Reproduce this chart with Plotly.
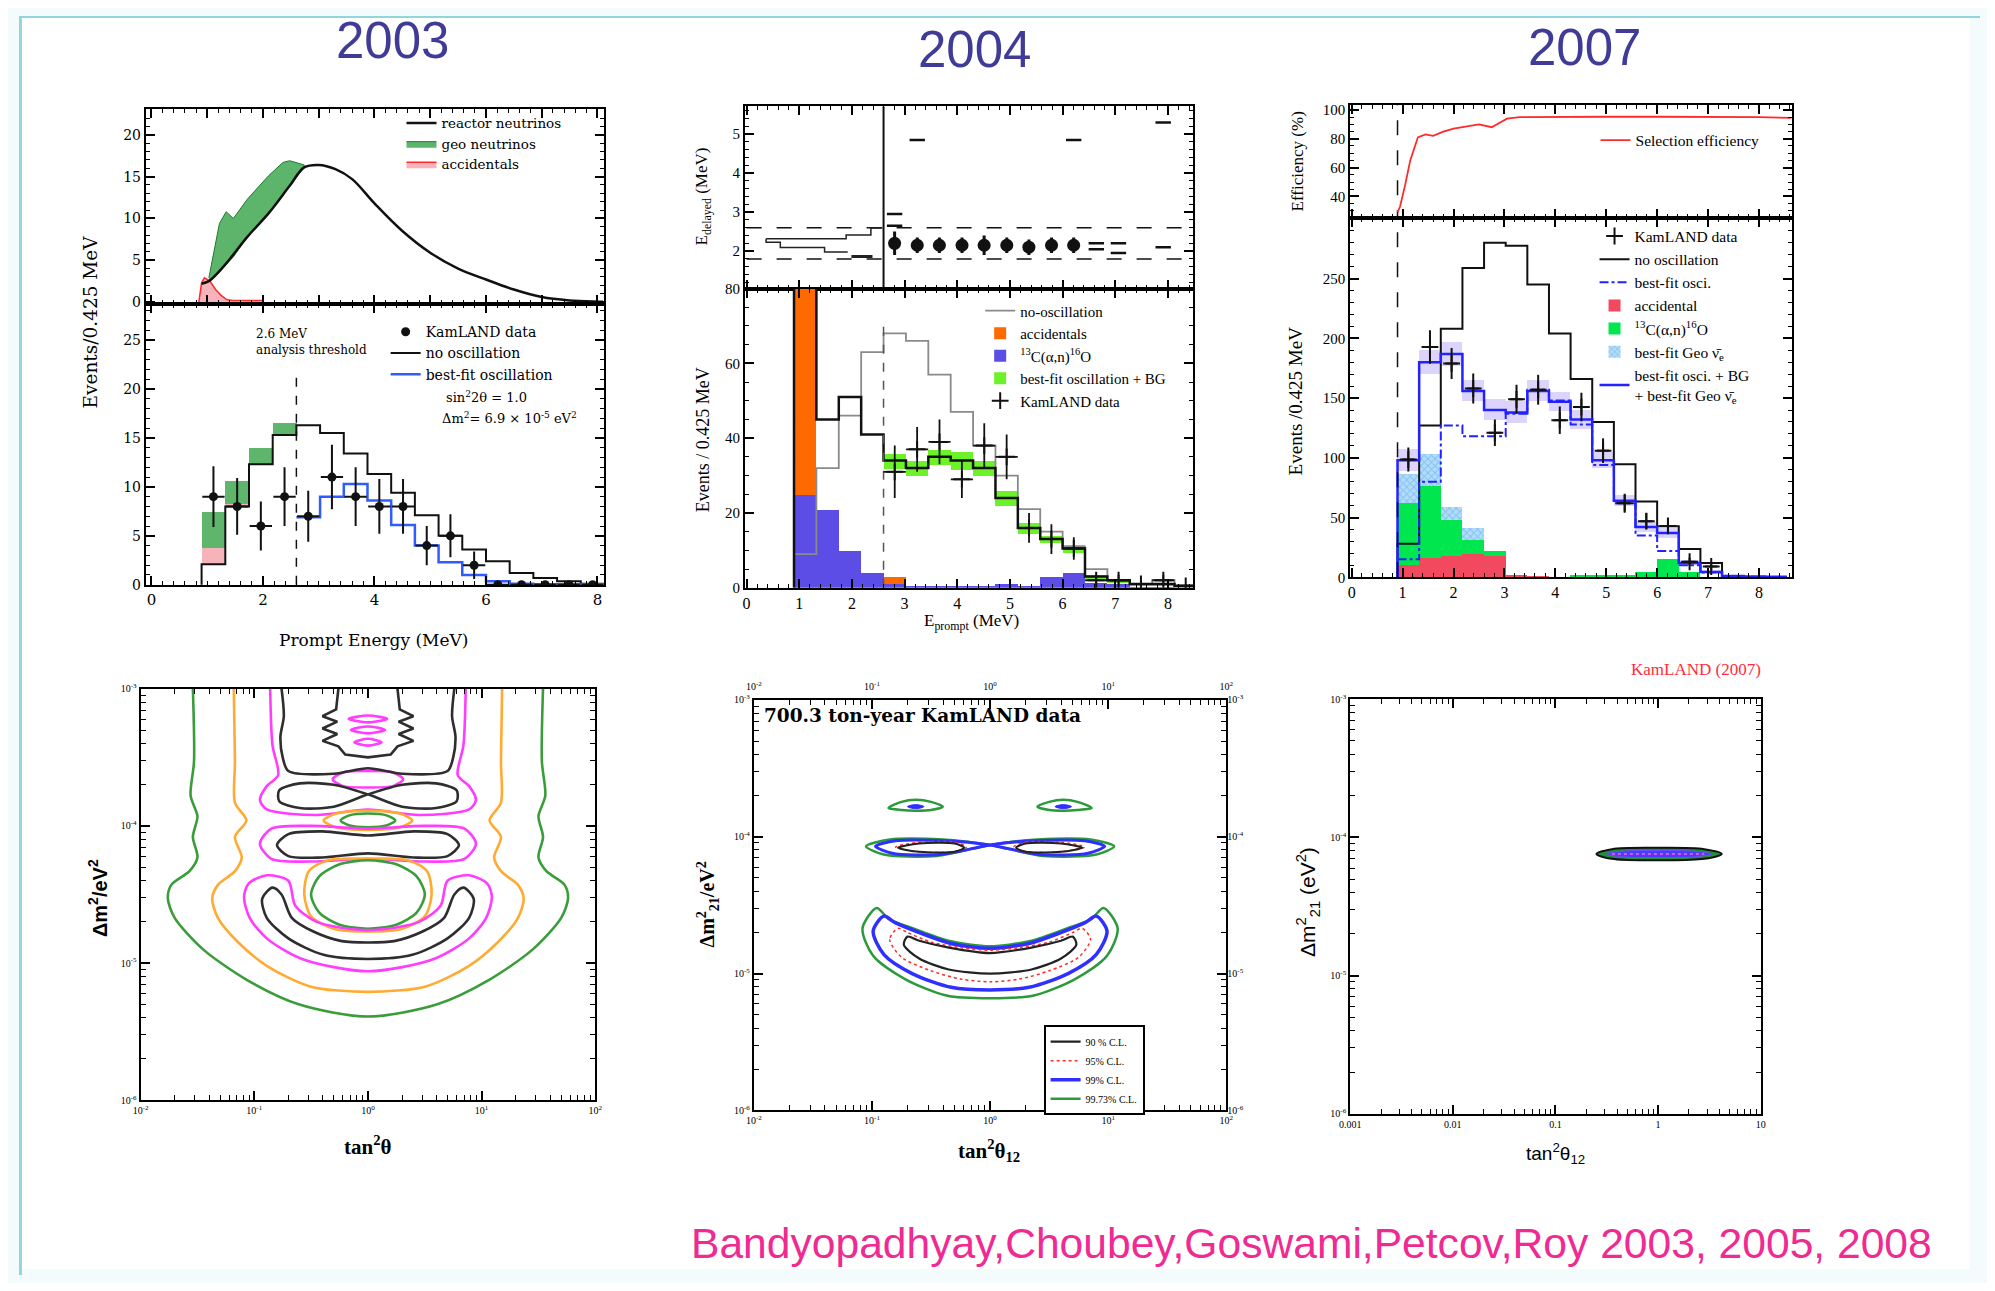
import numpy as np
import plotly.graph_objects as go

# The page body keeps its default 8 px margin, so the figure is made 16 px smaller
# and every layout position below is given in screen pixels of the 1995x1291 page.
FW, FH, OFF = 1979, 1275, 8
SERIF = "Liberation Serif"
WSERIF = "DejaVu Serif"
SANS = "Liberation Sans"


def fx(px):
    return (px - OFF) / FW


def fy(py):
    return 1 - (py - OFF) / FH


# ------------------------------------------------------------------ text
year_labels = ["2003", "2004", "2007"]
credit_text = "Bandyopadhyay,Choubey,Goswami,Petcov,Roy 2003, 2005, 2008"

# ------------------------------------------------------------------ 2003 spectra (top)
reac03_x = [0.9, 1.03, 1.3, 1.72, 2.1, 2.48, 2.74, 3.0, 3.3, 3.6, 4.0, 4.5, 5.0, 5.5, 6.0, 6.5, 7.0, 7.5, 8.0, 8.1]
reac03_y = [2.2, 2.5, 4.3, 7.8, 10.6, 13.9, 16.1, 16.4, 15.9, 14.7, 11.8, 8.5, 5.9, 4.0, 2.7, 1.5, 0.6, 0.2, 0.05, 0.03]
geo03_x = [1.03, 1.22, 1.34, 1.47, 1.72, 2.1, 2.36, 2.48, 2.74]
geo03_hi = [2.9, 9.4, 10.8, 10.0, 12.3, 15.1, 16.7, 16.9, 16.4]
geo03_lo = [2.5, 3.6, 4.5, 5.4, 7.8, 10.6, 12.9, 13.9, 16.1]
acc03_x = [0.85, 0.9, 0.95, 1.05, 1.15, 1.25, 1.35, 1.45, 2.0]
acc03_y = [0, 2.3, 2.9, 2.5, 1.5, 0.8, 0.3, 0.2, 0.2]

# ------------------------------------------------------------------ 2003 binned (bottom)
edges03 = [0.9, 1.325, 1.75, 2.175, 2.6, 3.025, 3.45, 3.875, 4.3, 4.725, 5.15, 5.575, 6.0, 6.425, 6.85, 7.275, 7.7, 8.125]
noosc03 = [2.1, 8.0, 12.3, 15.3, 16.3, 15.5, 13.4, 11.3, 9.4, 7.1, 5.0, 3.6, 2.4, 1.2, 0.7, 0.35, 0.1]
accbin03 = [1.7, 0.3, 0.1, 0.0]
geobin03 = [3.7, 2.3, 1.6, 1.2]
bestfit03 = [6.9, 9.0, 10.3, 8.6, 6.1, 4.0, 2.3, 1.0, 0.35, 0.1, 0.05, 0.05, 0.05]
data03 = [9, 8, 6, 9, 7, 11, 9, 8, 8, 4, 5, 2, 0, 0, 0, 0, 0]
err03 = [3.1, 2.9, 2.5, 3.0, 2.6, 3.3, 3.0, 2.8, 2.8, 2.0, 2.2, 1.4, 0, 0, 0, 0, 0]
threshold03 = 2.6
threshold03_top = 22

# ------------------------------------------------------------------ 2004
edges04 = [0.9, 1.325, 1.75, 2.175, 2.6, 3.025, 3.45, 3.875, 4.3, 4.725, 5.15, 5.575, 6.0, 6.425, 6.85, 7.275, 7.7, 8.125, 8.55]
noosc04 = [9, 32, 46, 63, 68, 66, 57, 47, 38, 30, 21, 15, 11, 5, 2, 1, 2, 0.5]
bestfit04 = [95, 45, 51, 41, 34, 32, 35, 34, 32, 24, 16, 13, 10.5, 3, 2, 1, 1, 0.5]
band04 = [0, 0, 0, 0, 2, 2, 2, 2.5, 2, 2, 1.5, 1, 1, 0.5, 0.5, 0.3, 0.3, 0.2]
c13_04 = [25, 21, 10, 4, 1, 0.5, 0.5, 0.5, 0.5, 1, 0.5, 3, 4, 1.5, 1, 0.3, 0.3, 0.3]
acc04 = [70, 0, 0, 0, 2, 0, 0, 0, 0, 0, 0, 0, 0, 0, 0, 0, 0, 0]
data04 = [31, 37, 39, 29, 38, 35, 16, 13, 10.5, 2, 2, 1, 2, 0.5]
err04 = [7, 6, 6, 5, 6, 6, 4, 4, 3, 1.5, 1.5, 1, 1.5, 0.5]
threshold04 = 2.6
threshold04_top = 72
delayed_window = [1.8, 2.6]
dots04_x = [2.81, 3.24, 3.66, 4.09, 4.51, 4.94, 5.36, 5.79, 6.21]
dots04_e = [2.2, 2.15, 2.15, 2.15, 2.15, 2.15, 2.1, 2.15, 2.15]
dots04_err = [0.3, 0.2, 0.2, 0.2, 0.25, 0.2, 0.2, 0.2, 0.2]
dash04_x = [3.24, 6.21, 7.91, 6.64, 6.64, 7.06, 7.06, 7.91, 2.81, 2.81]
dash04_e = [4.85, 4.85, 5.3, 2.2, 2.05, 2.2, 1.95, 2.1, 2.95, 2.65]
outl04_up_x = [0.37, 1.89, 1.89, 2.36, 2.36, 2.58]
outl04_up_e = [2.32, 2.32, 2.41, 2.41, 2.59, 2.59]
outl04_lo_x = [0.37, 0.37, 0.64, 0.64, 1.48, 1.48, 1.92]
outl04_lo_e = [2.32, 2.23, 2.23, 2.09, 2.09, 1.98, 1.98]
outl04_th_x = [1.99, 2.39]
outl04_th_e = [1.86, 1.86]

# ------------------------------------------------------------------ 2007
edges07 = edges04
noosc07 = [28, 127, 208, 259, 280, 277.5, 245, 204, 166, 130, 94.6, 63.5, 42.8, 23.6, 11.9, 1, 0.5, 0.5]
bestosc07 = [15, 80, 127, 118, 118, 137, 157, 148, 128, 94, 62, 35, 22, 10, 4, 1, 0.5, 0.3]
besttot07 = [98, 180, 187, 156, 140, 138, 156, 147, 132, 98, 64, 42, 37, 12, 4.5, 1, 0.5, 0.3]
band07 = [9, 10, 10, 9, 9, 9, 9, 8, 8, 7, 5, 4, 4, 2, 1, 0.5, 0.3, 0.3]
acc07 = [10, 16, 17.7, 19, 17.7, 1, 0.5, 0, 0, 0, 0, 0, 0, 0, 0, 0, 0, 0]
c13_07 = [52, 60, 30, 12, 4, 0, 0, 0, 2, 2, 1, 4, 15, 4, 0, 0, 0, 0]
geo07 = [24.5, 27, 11, 10, 0, 0, 0, 0, 0, 0, 0, 0, 0, 0, 0, 0, 0, 0]
data07 = [98.6, 192.7, 179, 158, 121, 149, 157, 131.5, 142.5, 106, 62, 47, 43, 13, 9]
err07 = [10, 14, 13, 12.6, 11, 12.2, 12.5, 11.5, 12, 10.3, 7.9, 6.9, 6.6, 3.6, 3]
eff07_x = [0.9, 0.95, 1.05, 1.15, 1.3, 1.45, 1.6, 1.8, 2.0, 2.3, 2.5, 2.75, 2.9, 3.05, 3.3, 4.0, 5.0, 6.0, 7.0, 8.0, 8.64]
eff07_y = [29, 33, 48, 65, 81, 83, 82, 85, 87, 89, 90, 88, 91, 94, 95, 95.3, 95.3, 95.3, 95.2, 95, 94.5]
threshold07 = 0.9

# ------------------------------------------------------------------ 2003 allowed regions (log10 tan^2, log10 dm^2)
c03_green_out = ([-1.54, -1.53, -1.56, -1.50, -1.54, -1.50, -1.57, -1.73, -1.76, -1.70, -1.45, -1.07, -0.61, 0.0, 0.61, 1.07, 1.45, 1.70, 1.76, 1.73, 1.57, 1.50, 1.54, 1.50, 1.56, 1.53, 1.54],
                 [-3.0, -3.53, -3.78, -3.93, -4.08, -4.23, -4.33, -4.43, -4.53, -4.67, -4.90, -5.12, -5.30, -5.39, -5.30, -5.12, -4.90, -4.67, -4.53, -4.43, -4.33, -4.23, -4.08, -3.93, -3.78, -3.53, -3.0])
c03_orange_out = ([-1.18, -1.17, -1.17, -1.07, -1.17, -1.11, -1.17, -1.32, -1.37, -1.32, -1.14, -0.89, -0.51, 0.0, 0.51, 0.89, 1.14, 1.32, 1.37, 1.32, 1.17, 1.11, 1.17, 1.07, 1.17, 1.17, 1.18],
                  [-3.0, -3.53, -3.83, -3.96, -4.08, -4.23, -4.33, -4.43, -4.53, -4.67, -4.85, -5.02, -5.17, -5.21, -5.17, -5.02, -4.85, -4.67, -4.53, -4.43, -4.33, -4.23, -4.08, -3.96, -3.83, -3.53, -3.0])
c03_mag_top = ([-0.86, -0.84, -0.79, -0.89, -0.95, -0.89, -0.45, 0.0, 0.45, 0.89, 0.95, 0.89, 0.79, 0.84, 0.86],
               [-3.0, -3.41, -3.63, -3.71, -3.81, -3.88, -3.92, -3.88, -3.92, -3.88, -3.81, -3.71, -3.63, -3.41, -3.0])
c03_mag_small = ([-0.31, -0.22, 0.0, 0.22, 0.31, 0.22, 0.0, -0.22, -0.31],
                 [-3.66, -3.61, -3.60, -3.61, -3.66, -3.71, -3.72, -3.71, -3.66])
c03_mag_wig = ([-0.17, 0, 0.17, 0, -0.17, None, -0.15, 0, 0.15, 0, -0.15, None, -0.12, 0, 0.12, 0, -0.12],
               [-3.22, -3.195, -3.22, -3.245, -3.22, None, -3.30, -3.275, -3.30, -3.325, -3.30, None, -3.39, -3.365, -3.39, -3.415, -3.39])
c03_black_top = ([-0.76, -0.74, -0.77, -0.75, -0.70, -0.30, 0.0, 0.30, 0.70, 0.75, 0.77, 0.74, 0.76],
                 [-3.0, -3.2, -3.35, -3.5, -3.6, -3.62, -3.58, -3.62, -3.6, -3.5, -3.35, -3.2, -3.0])
c03_black_zig = ([-0.26, -0.28, -0.40, -0.27, -0.40, -0.27, -0.40, -0.26, -0.20, 0.0, 0.20, 0.26, 0.40, 0.27, 0.40, 0.27, 0.40, 0.28, 0.26],
                 [-3.0, -3.15, -3.2, -3.24, -3.29, -3.33, -3.38, -3.42, -3.48, -3.5, -3.48, -3.42, -3.38, -3.33, -3.29, -3.24, -3.2, -3.15, -3.0])
c03_black_fig8 = ([0.0, -0.3, -0.6, -0.78, -0.78, -0.6, -0.3, 0.0, 0.3, 0.6, 0.78, 0.78, 0.6, 0.3, 0.0],
                  [-3.77, -3.70, -3.69, -3.74, -3.82, -3.87, -3.86, -3.77, -3.70, -3.69, -3.74, -3.82, -3.87, -3.86, -3.77])
c03_orange_small = ([-0.39, -0.28, 0.0, 0.28, 0.39, 0.28, 0.0, -0.28, -0.39],
                    [-3.96, -3.91, -3.89, -3.91, -3.96, -4.01, -4.03, -4.01, -3.96])
c03_green_small = ([-0.24, -0.17, 0.0, 0.17, 0.24, 0.17, 0.0, -0.17, -0.24],
                   [-3.96, -3.925, -3.91, -3.925, -3.96, -3.995, -4.01, -3.995, -3.96])
c03_mag_band = ([-0.95, -0.85, -0.5, 0.0, 0.5, 0.85, 0.95, 0.85, 0.5, 0.0, -0.5, -0.85, -0.95],
                [-4.13, -4.02, -4.0, -4.02, -4.0, -4.02, -4.13, -4.24, -4.26, -4.24, -4.26, -4.24, -4.13])
c03_black_ell = ([-0.8, -0.7, -0.4, 0.0, 0.4, 0.7, 0.8, 0.7, 0.4, 0.0, -0.4, -0.7, -0.8],
                 [-4.14, -4.06, -4.04, -4.07, -4.04, -4.06, -4.14, -4.22, -4.23, -4.2, -4.23, -4.22, -4.14])
c03_green_big = ([0.0, 0.25, 0.43, 0.5, 0.43, 0.25, 0.0, -0.25, -0.43, -0.5, -0.43, -0.25, 0.0],
                 [-4.25, -4.28, -4.37, -4.5, -4.63, -4.72, -4.75, -4.72, -4.63, -4.5, -4.37, -4.28, -4.25])
c03_orange_big = ([0.0, 0.35, 0.52, 0.56, 0.5, 0.3, 0.0, -0.3, -0.5, -0.56, -0.52, -0.35, 0.0],
                  [-4.24, -4.25, -4.33, -4.5, -4.66, -4.75, -4.77, -4.75, -4.66, -4.5, -4.33, -4.25, -4.24])
c03_black_shoe = ([-0.84, -0.93, -0.89, -0.7, -0.39, 0.0, 0.39, 0.7, 0.89, 0.93, 0.84, 0.76, 0.67, 0.48, 0.23, 0.0, -0.23, -0.48, -0.67, -0.76, -0.84],
                  [-4.45, -4.53, -4.67, -4.82, -4.94, -4.97, -4.94, -4.82, -4.67, -4.53, -4.45, -4.5, -4.67, -4.77, -4.84, -4.85, -4.84, -4.77, -4.67, -4.5, -4.45])
c03_mag_shoe = ([-0.89, -1.05, -1.09, -1.04, -0.89, -0.58, 0.0, 0.58, 0.89, 1.04, 1.09, 1.05, 0.89, 0.7, 0.64, 0.45, 0.0, -0.45, -0.64, -0.7, -0.89],
                [-4.36, -4.42, -4.52, -4.67, -4.82, -4.97, -5.06, -4.97, -4.82, -4.67, -4.52, -4.42, -4.36, -4.4, -4.58, -4.7, -4.76, -4.7, -4.58, -4.4, -4.36])

# ------------------------------------------------------------------ 2004 allowed regions
c04_green_brow = ([-0.86, -0.75, -0.63, -0.5, -0.4, -0.5, -0.63, -0.75, -0.86, None, 0.40, 0.5, 0.62, 0.74, 0.86, 0.74, 0.62, 0.5, 0.40],
                  [-3.79, -3.745, -3.73, -3.745, -3.78, -3.805, -3.81, -3.805, -3.79, None, -3.78, -3.745, -3.73, -3.745, -3.79, -3.805, -3.81, -3.805, -3.78])
c04_blue_brow = ([-0.7, -0.63, -0.56, -0.63, -0.7, None, 0.55, 0.62, 0.69, 0.62, 0.55],
                 [-3.78, -3.765, -3.78, -3.795, -3.78, None, -3.78, -3.765, -3.78, -3.795, -3.78])
c04_green_tie = ([0.0, -0.4, -0.85, -1.05, -0.9, -0.45, 0.0, 0.4, 0.85, 1.05, 0.9, 0.45, 0.0],
                 [-4.06, -4.02, -4.02, -4.07, -4.13, -4.14, -4.06, -4.02, -4.02, -4.07, -4.13, -4.14, -4.06])
c04_blue_tie = ([0.0, -0.37, -0.8, -0.97, -0.83, -0.42, 0.0, 0.37, 0.8, 0.97, 0.83, 0.42, 0.0],
                [-4.06, -4.03, -4.03, -4.07, -4.12, -4.13, -4.06, -4.03, -4.03, -4.07, -4.12, -4.13, -4.06])
c04_red_tie = ([-0.8, -0.6, -0.3, -0.2, -0.3, -0.6, -0.8, None, 0.2, 0.3, 0.6, 0.8, 0.6, 0.3, 0.2],
               [-4.075, -4.04, -4.04, -4.075, -4.11, -4.11, -4.075, None, -4.075, -4.04, -4.04, -4.075, -4.11, -4.11, -4.075])
c04_black_tie = ([-0.78, -0.6, -0.3, -0.22, -0.3, -0.6, -0.78, None, 0.22, 0.3, 0.6, 0.78, 0.6, 0.3, 0.22],
                 [-4.08, -4.05, -4.05, -4.08, -4.11, -4.11, -4.08, None, -4.08, -4.05, -4.05, -4.08, -4.11, -4.11, -4.08])
c04_green_smile = ([-0.96, -1.08, -0.99, -0.72, -0.37, 0.0, 0.37, 0.72, 0.99, 1.08, 0.96, 0.86, 0.65, 0.35, 0.0, -0.35, -0.65, -0.86, -0.96],
                   [-4.52, -4.67, -4.87, -5.04, -5.16, -5.18, -5.16, -5.04, -4.87, -4.67, -4.52, -4.6, -4.67, -4.76, -4.8, -4.76, -4.67, -4.6, -4.52])
c04_blue_smile = ([-0.9, -0.99, -0.9, -0.66, -0.33, 0.0, 0.33, 0.66, 0.9, 0.99, 0.9, 0.8, 0.6, 0.33, 0.0, -0.33, -0.6, -0.8, -0.9],
                  [-4.58, -4.69, -4.86, -5.0, -5.1, -5.12, -5.1, -5.0, -4.86, -4.69, -4.58, -4.63, -4.7, -4.78, -4.815, -4.78, -4.7, -4.63, -4.58])
c04_red_smile = ([-0.78, -0.85, -0.75, -0.5, -0.25, 0.0, 0.25, 0.5, 0.75, 0.85, 0.78, 0.7, 0.5, 0.25, 0.0, -0.25, -0.5, -0.7, -0.78],
                 [-4.67, -4.75, -4.88, -4.98, -5.04, -5.06, -5.04, -4.98, -4.88, -4.75, -4.67, -4.7, -4.77, -4.81, -4.83, -4.81, -4.77, -4.7, -4.67])
c04_black_smile = ([-0.7, -0.73, -0.6, -0.35, 0.0, 0.35, 0.6, 0.73, 0.7, 0.6, 0.35, 0.0, -0.35, -0.6, -0.7],
                   [-4.73, -4.79, -4.89, -4.97, -5.0, -4.97, -4.89, -4.79, -4.73, -4.76, -4.81, -4.85, -4.81, -4.76, -4.73])

# ------------------------------------------------------------------ 2007 allowed region
c07_green = ([-0.6, -0.45, 0.0, 0.45, 0.62, 0.45, 0.0, -0.45, -0.6],
             [-4.12, -4.085, -4.075, -4.085, -4.12, -4.155, -4.165, -4.155, -4.12])
c07_blue = ([-0.5, -0.35, 0.0, 0.35, 0.52, 0.35, 0.0, -0.35, -0.5],
            [-4.12, -4.1, -4.095, -4.1, -4.12, -4.14, -4.145, -4.14, -4.12])
c07_mag = ([-0.45, 0.45], [-4.12, -4.12])

log_ticks_x = [1e-2, 1e-1, 1, 10, 100]
log_ticktext_x = ["10<sup>-2</sup>", "10<sup>-1</sup>", "10<sup>0</sup>", "10<sup>1</sup>", "10<sup>2</sup>"]
log_ticks_y = [1e-6, 1e-5, 1e-4, 1e-3]
log_ticktext_y = ["10<sup>-6</sup>", "10<sup>-5</sup>", "10<sup>-4</sup>", "10<sup>-3</sup>"]
ticks07_x = [1e-3, 1e-2, 1e-1, 1, 10]
ticktext07_x = ["0.001", "0.01", "0.1", "1", "10"]


# ------------------------------------------------------------------ helpers
def centers(edges):
    return [(edges[i] + edges[i + 1]) / 2 for i in range(len(edges) - 1)]


def widths(edges):
    return [edges[i + 1] - edges[i] for i in range(len(edges) - 1)]


def step(edges, vals):
    return [edges[0]] + list(edges[:len(vals) + 1]), [0] + list(vals) + [vals[-1]]


def pw(vals):
    return [None if v is None else 10 ** v for v in vals]


fig = go.Figure()


def add(tr):
    fig.add_trace(tr)


# ================================================================== PANEL 1 (2003 spectra)
add(go.Scatter(x=acc03_x, y=acc03_y, fill="tozeroy", fillcolor="#f7b3bb", mode="lines",
               line=dict(color="#ff2a2a", width=1.5), name="accidentals", legend="legend",
               legendrank=3, xaxis="x", yaxis="y"))
add(go.Scatter(x=geo03_x + geo03_x[::-1], y=geo03_hi + geo03_lo[::-1], fill="toself",
               fillcolor="#5db46b", mode="lines", line=dict(color="#1d7a2e", width=1),
               name="geo neutrinos", legend="legend", legendrank=2, xaxis="x", yaxis="y"))
add(go.Scatter(x=reac03_x, y=reac03_y, mode="lines", line=dict(color="#111", width=2.5, shape="spline"),
               name="reactor neutrinos", legend="legend", legendrank=1, xaxis="x", yaxis="y"))

c03 = centers(edges03)
w03 = widths(edges03)
add(go.Bar(x=c03[:4], y=accbin03, base=noosc03[:4], width=w03[:4], marker=dict(color="#f6b3ba", line=dict(width=0)),
           showlegend=False, xaxis="x2", yaxis="y2"))
add(go.Bar(x=c03[:4], y=geobin03, base=[noosc03[i] + accbin03[i] for i in range(4)], width=w03[:4],
           marker=dict(color="#5fb56c", line=dict(width=0)), showlegend=False, xaxis="x2", yaxis="y2"))
sx, sy = step(edges03, noosc03)
add(go.Scatter(x=sx, y=sy, mode="lines", line=dict(color="#111", width=2, shape="hv"),
               name="no oscillation", legend="legend2", legendrank=2, xaxis="x2", yaxis="y2"))
sx, sy = step(edges03[4:], bestfit03)
add(go.Scatter(x=sx[1:], y=sy[1:], mode="lines", line=dict(color="#2f5cff", width=2.5, shape="hv"),
               name="best-fit oscillation", legend="legend2", legendrank=3, xaxis="x2", yaxis="y2"))
add(go.Scatter(x=[threshold03, threshold03], y=[0, threshold03_top], mode="lines",
               line=dict(color="#111", width=1.5, dash="dash"), showlegend=False, xaxis="x2", yaxis="y2"))
add(go.Scatter(x=c03, y=data03, mode="markers", marker=dict(color="#111", size=9),
               error_y=dict(type="data", array=err03, color="#111", thickness=2, width=0),
               error_x=dict(type="constant", value=0.2, color="#111", thickness=2, width=0),
               name="KamLAND data", legend="legend2", legendrank=1, xaxis="x2", yaxis="y2"))

# ================================================================== PANEL 2 (2004)
for e in delayed_window:
    add(go.Scatter(x=[edges04[0] - 0.9, edges04[-1]], y=[e, e], mode="lines",
                   line=dict(color="#111", width=1.5, dash="longdash"), showlegend=False, xaxis="x3", yaxis="y3"))
add(go.Scatter(x=[threshold04, threshold04], y=[1.0, 5.8], mode="lines", line=dict(color="#111", width=2),
               showlegend=False, xaxis="x3", yaxis="y3"))
add(go.Scatter(x=outl04_up_x, y=outl04_up_e, mode="lines", line=dict(color="#222", width=1.5),
               showlegend=False, xaxis="x3", yaxis="y3"))
add(go.Scatter(x=outl04_lo_x, y=outl04_lo_e, mode="lines", line=dict(color="#222", width=1.5),
               showlegend=False, xaxis="x3", yaxis="y3"))
add(go.Scatter(x=outl04_th_x, y=outl04_th_e, mode="lines", line=dict(color="#222", width=3),
               showlegend=False, xaxis="x3", yaxis="y3"))
add(go.Scatter(x=dots04_x, y=dots04_e, mode="markers", marker=dict(color="#111", size=13),
               error_y=dict(type="data", array=dots04_err, color="#111", thickness=3, width=0),
               showlegend=False, xaxis="x3", yaxis="y3"))
add(go.Scatter(x=dash04_x, y=dash04_e, mode="markers",
               marker=dict(symbol="line-ew", size=11, line=dict(color="#111", width=2.5)),
               showlegend=False, xaxis="x3", yaxis="y3"))

c04 = centers(edges04)
w04 = widths(edges04)
add(go.Bar(x=c04, y=c13_04, width=w04, marker=dict(color="#5b4de6", line=dict(width=0)),
           name="<sup>13</sup>C(α,n)<sup>16</sup>O", legend="legend3", legendrank=3, xaxis="x4", yaxis="y4"))
add(go.Bar(x=c04, y=acc04, base=c13_04, width=w04, marker=dict(color="#ff6a00", line=dict(width=0)),
           name="accidentals", legend="legend3", legendrank=2, xaxis="x4", yaxis="y4"))
add(go.Bar(x=c04[4:], y=[2 * b for b in band04[4:]], base=[bestfit04[i] - band04[i] for i in range(4, 18)],
           width=w04[4:], marker=dict(color="#6df22a", line=dict(width=0)),
           name="best-fit oscillation + BG", legend="legend3", legendrank=4, xaxis="x4", yaxis="y4"))
sx, sy = step(edges04, noosc04)
add(go.Scatter(x=sx, y=sy, mode="lines", line=dict(color="#8a8a8a", width=1.8, shape="hv"),
               name="no-oscillation", legend="legend3", legendrank=1, xaxis="x4", yaxis="y4"))
sx, sy = step(edges04, bestfit04)
add(go.Scatter(x=sx, y=sy, mode="lines", line=dict(color="#111", width=2.5, shape="hv"),
               showlegend=False, xaxis="x4", yaxis="y4"))
add(go.Scatter(x=[threshold04, threshold04], y=[0, threshold04_top], mode="lines",
               line=dict(color="#555", width=1.5, dash="dash"), showlegend=False, xaxis="x4", yaxis="y4"))
add(go.Scatter(x=c04[4:], y=data04, mode="markers",
               marker=dict(symbol="cross-thin", size=12, line=dict(color="#111", width=2)),
               error_y=dict(type="data", array=err04, color="#111", thickness=1.8, width=0),
               error_x=dict(type="constant", value=0.21, color="#111", thickness=1.8, width=0),
               name="KamLAND data", legend="legend3", legendrank=5, xaxis="x4", yaxis="y4"))

# ================================================================== PANEL 3 (2007)
add(go.Scatter(x=[threshold07, threshold07], y=[20, 110], mode="lines", line=dict(color="#111", width=1.5, dash="longdash"),
               showlegend=False, xaxis="x5", yaxis="y5"))
add(go.Scatter(x=eff07_x, y=eff07_y, mode="lines", line=dict(color="#ff2a2a", width=1.8),
               name="Selection efficiency", legend="legend4", xaxis="x5", yaxis="y5"))

c07 = centers(edges07)
w07 = widths(edges07)
add(go.Bar(x=c07, y=[2 * b for b in band07], base=[besttot07[i] - band07[i] for i in range(18)], width=w07,
           marker=dict(color="#dcd4fc", line=dict(width=0)), showlegend=False, xaxis="x6", yaxis="y6"))
add(go.Bar(x=c07, y=acc07, width=w07, marker=dict(color="#f2495f", line=dict(width=0)),
           name="accidental", legend="legend5", legendrank=4, xaxis="x6", yaxis="y6"))
add(go.Bar(x=c07, y=c13_07, base=acc07, width=w07, marker=dict(color="#00e64f", line=dict(width=0)),
           name="<sup>13</sup>C(α,n)<sup>16</sup>O", legend="legend5", legendrank=5, xaxis="x6", yaxis="y6"))
add(go.Bar(x=c07, y=geo07, base=[acc07[i] + c13_07[i] for i in range(18)], width=w07,
           marker=dict(color="#b3dcf9", line=dict(width=0),
                       pattern=dict(shape="x", bgcolor="#b3dcf9", fgcolor="#4ea6ee", size=5, solidity=0.35)),
           name="best-fit Geo ν̄<sub>e</sub>", legend="legend5", legendrank=6, xaxis="x6", yaxis="y6"))
sx, sy = step(edges07, noosc07)
add(go.Scatter(x=sx, y=sy, mode="lines", line=dict(color="#111", width=2, shape="hv"),
               name="no oscillation", legend="legend5", legendrank=2, xaxis="x6", yaxis="y6"))
sx, sy = step(edges07, bestosc07)
add(go.Scatter(x=sx, y=sy, mode="lines", line=dict(color="#2222ff", width=2, shape="hv", dash="dashdot"),
               name="best-fit osci.", legend="legend5", legendrank=3, xaxis="x6", yaxis="y6"))
sx, sy = step(edges07, besttot07)
add(go.Scatter(x=sx, y=sy, mode="lines", line=dict(color="#2222ff", width=2.5, shape="hv"),
               name="best-fit osci. + BG<br>+ best-fit Geo ν̄<sub>e</sub>", legend="legend5", legendrank=7,
               xaxis="x6", yaxis="y6"))
add(go.Scatter(x=[threshold07, threshold07], y=[0, 310], mode="lines", line=dict(color="#111", width=1.5, dash="longdash"),
               showlegend=False, xaxis="x6", yaxis="y6"))
add(go.Scatter(x=c07[:len(data07)], y=data07, mode="markers",
               marker=dict(symbol="cross-thin", size=12, line=dict(color="#111", width=2)),
               error_y=dict(type="data", array=err07, color="#111", thickness=2, width=0),
               error_x=dict(type="constant", value=0.12, color="#111", thickness=2, width=0),
               name="KamLAND data", legend="legend5", legendrank=1, xaxis="x6", yaxis="y6"))

# ================================================================== PANEL 4 (2003 contours)
GREEN3, ORANGE3, MAG3, BLACK3 = "#3a9d3a", "#ffab33", "#ff3cff", "#2e2e2e"
contours03 = [
    (c03_green_out, GREEN3, "spline"), (c03_orange_out, ORANGE3, "spline"),
    (c03_mag_top, MAG3, "spline"), (c03_mag_small, MAG3, "spline"), (c03_mag_wig, MAG3, "spline"),
    (c03_black_top, BLACK3, "spline"), (c03_black_zig, BLACK3, "linear"), (c03_black_fig8, BLACK3, "spline"),
    (c03_orange_small, ORANGE3, "spline"), (c03_green_small, GREEN3, "spline"),
    (c03_mag_band, MAG3, "spline"), (c03_black_ell, BLACK3, "spline"),
    (c03_orange_big, ORANGE3, "spline"), (c03_green_big, GREEN3, "spline"),
    (c03_mag_shoe, MAG3, "spline"), (c03_black_shoe, BLACK3, "spline"),
]
for (lx, ly), col, shp in contours03:
    add(go.Scatter(x=pw(lx), y=pw(ly), mode="lines", line=dict(color=col, width=2.6, shape=shp, smoothing=0.8),
                   showlegend=False, xaxis="x7", yaxis="y7"))

# ================================================================== PANEL 5 (2004 contours)
G4, B4, R4, K4 = "#2a9a3a", "#2f2fff", "#ff2b2b", "#222222"
add(go.Scatter(x=pw(c04_blue_brow[0]), y=pw(c04_blue_brow[1]), mode="lines", fill="toself", fillcolor=B4,
               line=dict(color=B4, width=1, shape="spline"), showlegend=False, xaxis="x8", yaxis="y8"))
for (lx, ly), col, wd, ds, nm, rk in [
    (c04_green_brow, G4, 2.5, "solid", None, 0), (c04_green_tie, G4, 2.5, "solid", None, 0),
    (c04_blue_tie, B4, 3, "solid", None, 0), (c04_red_tie, R4, 1.5, "dot", None, 0),
    (c04_black_tie, K4, 2, "solid", None, 0),
    (c04_green_smile, G4, 2.5, "solid", "99.73% C.L.", 4), (c04_blue_smile, B4, 3.5, "solid", "99% C.L.", 3),
    (c04_red_smile, R4, 1.5, "dot", "95% C.L.", 2), (c04_black_smile, K4, 2.2, "solid", "90 % C.L.", 1),
]:
    tr = dict(x=pw(lx), y=pw(ly), mode="lines",
              line=dict(color=col, width=wd, dash=ds, shape="spline", smoothing=0.8),
              xaxis="x8", yaxis="y8")
    if nm is None:
        tr["showlegend"] = False
    else:
        tr.update(name=nm, legend="legend6", legendrank=rk)
    add(go.Scatter(**tr))
# helper traces so that the mirrored label axes of panel 5 are drawn
add(go.Scatter(x=pw(c04_green_smile[0][:1]), y=pw(c04_green_smile[1][:1]), mode="markers",
               marker=dict(opacity=0), showlegend=False, hoverinfo="skip", xaxis="x10", yaxis="y8"))
add(go.Scatter(x=pw(c04_green_smile[0][:1]), y=pw(c04_green_smile[1][:1]), mode="markers",
               marker=dict(opacity=0), showlegend=False, hoverinfo="skip", xaxis="x8", yaxis="y10"))

# ================================================================== PANEL 6 (2007 contour)
add(go.Scatter(x=pw(c07_green[0]), y=pw(c07_green[1]), mode="lines", fill="toself", fillcolor="#1f8f3a",
               line=dict(color="#111", width=2, shape="spline"), showlegend=False, xaxis="x9", yaxis="y9"))
add(go.Scatter(x=pw(c07_blue[0]), y=pw(c07_blue[1]), mode="lines", fill="toself", fillcolor="#4b3bff",
               line=dict(color="#6a4cff", width=1, shape="spline"), showlegend=False, xaxis="x9", yaxis="y9"))
add(go.Scatter(x=pw(c07_mag[0]), y=pw(c07_mag[1]), mode="lines", line=dict(color="#ff66ff", width=1.5, dash="dot"),
               showlegend=False, xaxis="x9", yaxis="y9"))


# ================================================================== AXES
def lin_axis(dom, rng, anchor, tickvals, labels=True, minor=None, size=14, family=SERIF):
    d = dict(domain=dom, range=rng, anchor=anchor, showline=True, linecolor="black", linewidth=2,
             mirror="ticks", ticks="inside", ticklen=9, tickwidth=1.5, tickcolor="black",
             showgrid=False, zeroline=False, tickmode="array", tickvals=tickvals,
             showticklabels=labels, tickfont=dict(family=family, size=size, color="black"))
    if minor:
        d["minor"] = dict(ticks="inside", ticklen=4, tickwidth=1, tickcolor="black", dtick=minor, tick0=0,
                          showgrid=False)
    return d


def log_axis(dom, rng, anchor, tickvals, ticktext, size=10, **kw):
    d = dict(type="log", domain=dom, range=rng, anchor=anchor, showline=True, linecolor="black", linewidth=2,
             mirror="ticks", ticks="inside", ticklen=9, tickwidth=1.5, tickcolor="black",
             showgrid=False, zeroline=False, tickmode="array", tickvals=tickvals, ticktext=ticktext,
             tickfont=dict(family=SERIF, size=size, color="black"),
             minor=dict(ticks="inside", ticklen=5, tickwidth=1, tickcolor="black", dtick="D1", showgrid=False))
    d.update(kw)
    return d


xt_even = [0, 2, 4, 6, 8]
xt_all = [0, 1, 2, 3, 4, 5, 6, 7, 8]

p1x = [fx(136), fx(598)]
p2x = [fx(740.7), fx(1193)]
p3x = [fx(1351.4), fx(1796.8)]

layout_axes = dict(
    xaxis=lin_axis(p1x, [-0.1, 8.11], "y", xt_all, labels=False, minor=0.2),
    yaxis=lin_axis([fy(299.4), fy(102.4)], [-0.2, 23.06], "x", [0, 5, 10, 15, 20], minor=1, size=14, family=WSERIF),
    xaxis2=lin_axis(p1x, [-0.1, 8.11], "y2", xt_even, minor=0.2, size=15, family=WSERIF),
    yaxis2=lin_axis([fy(584.5), fy(299.4)], [-0.05, 28.7], "x2", [0, 5, 10, 15, 20, 25], minor=1, size=14, family=WSERIF),
    xaxis3=lin_axis(p2x, [-0.03, 8.48], "y3", xt_all, labels=False, minor=0.2),
    yaxis3=lin_axis([fy(284), fy(99.6)], [1.04, 5.71], "x3", [2, 3, 4, 5], minor=0.2, size=15),
    xaxis4=lin_axis(p2x, [-0.03, 8.48], "y4", xt_all, minor=0.2, size=16),
    yaxis4=lin_axis([fy(587), fy(284)], [0, 80], "x4", [0, 20, 40, 60, 80], minor=5, size=15),
    xaxis5=lin_axis(p3x, [-0.03, 8.64], "y5", xt_all, labels=False, minor=0.2),
    yaxis5=lin_axis([fy(212.9), fy(97.9)], [24.8, 103.6], "x5", [40, 60, 80, 100], minor=5, size=15),
    xaxis6=lin_axis(p3x, [-0.03, 8.64], "y6", xt_all, minor=0.2, size=16),
    yaxis6=lin_axis([fy(576.4), fy(212.9)], [0, 300.5], "x6", [0, 50, 100, 150, 200, 250], minor=10, size=15),
    xaxis7=log_axis([fx(130.7), fx(589.6)], [-2, 2], "y7", log_ticks_x, log_ticktext_x),
    yaxis7=log_axis([fy(1106), fy(689.3)], [-6, -3], "x7", log_ticks_y, log_ticktext_y),
    xaxis8=log_axis([fx(749.6), fx(1226.4)], [-2, 2], "y8", log_ticks_x, log_ticktext_x),
    yaxis8=log_axis([fy(1116.3), fy(700.6)], [-6, -3], "x8", log_ticks_y, log_ticktext_y),
    xaxis10=log_axis([fx(749.6), fx(1226.4)], [-2, 2], "y8", log_ticks_x, log_ticktext_x,
                     overlaying="x8", side="top", showline=False, ticks="", ticklabelstandoff=7),
    yaxis10=log_axis([fy(1116.3), fy(700.6)], [-6, -3], "x8", log_ticks_y, log_ticktext_y,
                     overlaying="y8", side="right", showline=False, ticks=""),
    xaxis9=log_axis([fx(1351.4), fx(1765.7)], [-3, 1], "y9", ticks07_x, ticktext07_x),
    yaxis9=log_axis([fy(1119.6), fy(700)], [-6, -3], "x9", log_ticks_y, log_ticktext_y),
)
layout_axes["xaxis10"]["minor"] = dict(ticks="")
layout_axes["yaxis10"]["minor"] = dict(ticks="")


# ================================================================== ANNOTATIONS
def ann(text, px, py, size=14, family=SERIF, color="black", angle=0, xanchor="center", align="center", bold=False):
    if bold:
        text = "<b>" + text + "</b>"
    return dict(text=text, x=fx(px), y=fy(py), xref="paper", yref="paper", showarrow=False,
                font=dict(family=family, size=size, color=color), textangle=angle,
                xanchor=xanchor, yanchor="middle", align=align)


annotations = [
    ann(year_labels[0], 385, 33, size=51, family=SANS, color="#3f3b96"),
    ann(year_labels[1], 972, 42, size=51, family=SANS, color="#3f3b96"),
    ann(year_labels[2], 1588, 40, size=51, family=SANS, color="#3f3b96"),
    ann(credit_text, 1312, 1251, size=42.6, family=SANS, color="#ef2a93"),
    # panel 1
    ann("Events/0.425 MeV", 80, 318, size=18.5, family=WSERIF, angle=-90),
    ann("Prompt Energy (MeV)", 366, 640, size=17, family=WSERIF),
    ann("2.6 MeV<br>analysis threshold", 245, 338, size=12, family=WSERIF, xanchor="left", align="left"),
    ann("sin<sup>2</sup>2θ = 1.0", 437, 394, size=13, family=WSERIF, xanchor="left"),
    ann("Δm<sup>2</sup>= 6.9 × 10<sup>-5</sup> eV<sup>2</sup>", 433, 415, size=13, family=WSERIF, xanchor="left"),
    # panel 2
    ann("E<sub>delayed</sub> (MeV)", 698, 191, size=17, angle=-90),
    ann("Events / 0.425 MeV", 698, 437, size=18, angle=-90),
    ann("E<sub>prompt</sub> (MeV)", 969, 622, size=17),
    # panel 3
    ann("Efficiency (%)", 1298, 155, size=17, angle=-90),
    ann("Events /0.425 MeV", 1296, 398, size=19, angle=-90),
    # panel 4
    ann("tan<sup>2</sup>θ", 360, 1152, size=21, bold=True),
    ann("Δm<sup>2</sup>/eV<sup>2</sup>", 88, 901, size=20, family=SANS, angle=-90, bold=True),
    # panel 5
    ann("700.3 ton-year KamLAND data", 758, 716, size=18.5, family=WSERIF, xanchor="left", bold=True),
    ann("tan<sup>2</sup>θ<sub>12</sub>", 987, 1157, size=21, bold=True),
    ann("Δm<sup>2</sup><sub>21</sub>/eV<sup>2</sup>", 703, 908, size=20, angle=-90, bold=True),
    # panel 6
    ann("KamLAND (2007)", 1700, 670, size=17, color="#ff2b3a"),
    ann("tan<sup>2</sup>θ<sub>12</sub>", 1559, 1160, size=19, family=SANS),
    ann("Δm<sup>2</sup><sub>21</sub> (eV<sup>2</sup>)", 1309, 905, size=21, family=SANS, angle=-90),
]


def leg(px, py, size, border=False, family=SERIF):
    d = dict(x=fx(px), y=fy(py), xref="paper", yref="paper", xanchor="left", yanchor="top",
             bgcolor="rgba(0,0,0,0)", font=dict(family=family, size=size, color="black"),
             tracegroupgap=0, itemwidth=30, traceorder="normal")
    if border:
        d.update(bgcolor="white", bordercolor="black", borderwidth=2)
    return d


TEAL = "#93d5da"
shapes = [
    dict(type="rect", xref="paper", yref="paper", x0=0, x1=1, y0=fy(10), y1=1, fillcolor=TEAL,
         line=dict(width=0), layer="below"),
    dict(type="rect", xref="paper", yref="paper", x0=0, x1=fx(11), y0=0, y1=1, fillcolor=TEAL,
         line=dict(width=0), layer="below"),
    dict(type="rect", xref="paper", yref="paper", x0=fx(11), x1=fx(1977), y0=fy(1277), y1=fy(10),
         fillcolor="white", line=dict(width=0), layer="below"),
]

fig.update_layout(
    width=FW, height=FH, margin=dict(l=0, r=0, t=0, b=0),
    paper_bgcolor="#f3fbfc", plot_bgcolor="rgba(0,0,0,0)",
    barmode="overlay", bargap=0,
    showlegend=True,
    legend=leg(394, 101, 13.5, family=WSERIF),
    legend2=leg(378, 312, 14, family=WSERIF),
    legend3=leg(978, 290, 15),
    legend4=leg(1599, 117, 15.5),
    legend5=leg(1598, 214, 15.5),
    legend6=leg(1042, 1030, 10, border=True),
    annotations=annotations,
    shapes=shapes,
    **layout_axes,
)

fig.write_html("out.html")
